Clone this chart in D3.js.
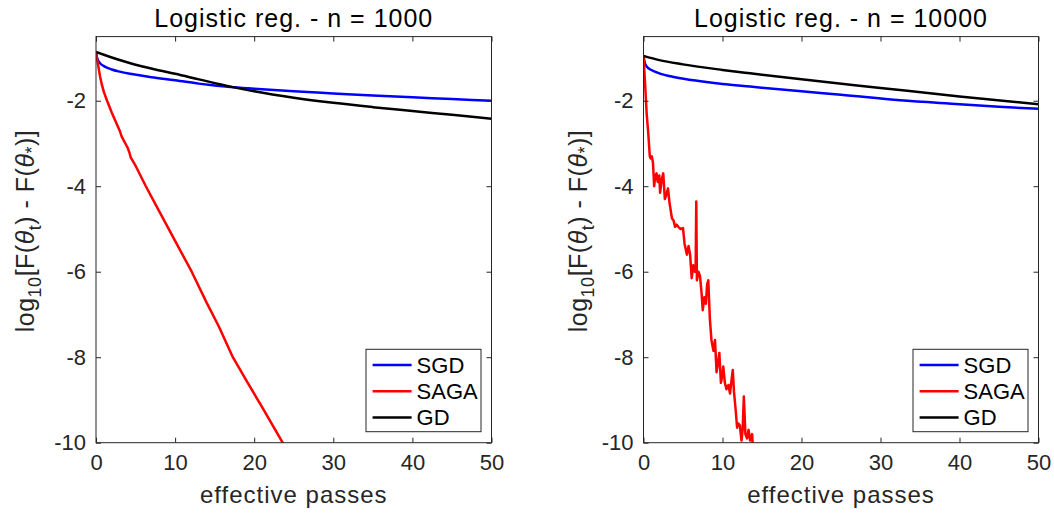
<!DOCTYPE html>
<html>
<head>
<meta charset="utf-8">
<script src="https://cdn.jsdelivr.net/npm/d3@7"></script>
<style>
  body { margin: 0; background: #fff; }
  text { font-family: "Liberation Sans", Arial, Helvetica, sans-serif; fill: #262626; }
</style>
</head>
<body>
<svg id="chart" width="1054" height="514"></svg>
<script>
// ---- data ----
const xTicks = [0, 10, 20, 30, 40, 50];
const yTicks = [-10, -8, -6, -4, -2];
const seriesNames = ["SGD", "SAGA", "GD"];
const titles = ["Logistic reg. - n = 1000", "Logistic reg. - n = 10000"];

// n = 1000
const sgdSmall = [[0,-0.87],[0.15,-1.0],[0.5,-1.12],[1,-1.19],[2,-1.27],[3,-1.32],[4.7,-1.38],[7,-1.45],[10,-1.52],[13,-1.6],[17,-1.68],[20,-1.72],[25,-1.78],[30,-1.83],[35,-1.88],[40,-1.92],[45,-1.96],[50,-2.0]];
const sagaSmall = [[0,-0.87],[0.15,-1.05],[0.3,-1.2],[0.5,-1.42],[0.75,-1.63],[1,-1.8],[1.4,-2.0],[2,-2.28],[2.4,-2.45],[3,-2.7],[3.25,-2.84],[4,-3.1],[4.2,-3.2],[4.4,-3.33],[5,-3.52],[6.3,-4.0],[8,-4.59],[10,-5.28],[12.1,-6.0],[14,-6.73],[15.5,-7.27],[17.3,-8.0],[19,-8.54],[21,-9.17],[23.6,-10.0],[25,-10.45]];
const gdSmall = [[0,-0.86],[2,-0.99],[5,-1.16],[7.5,-1.27],[10,-1.37],[13,-1.5],[17,-1.67],[20,-1.78],[25,-1.93],[30,-2.05],[35,-2.15],[40,-2.24],[45,-2.33],[50,-2.42]];

// n = 10000
const sgdLarge = [[0,-0.95],[0.15,-1.1],[0.4,-1.2],[1,-1.28],[2,-1.36],[4,-1.45],[7,-1.54],[10,-1.61],[13.5,-1.67],[20,-1.78],[25,-1.86],[32.5,-1.99],[40,-2.08],[45,-2.14],[50,-2.19]];
const sagaLarge = [[0,-0.95],[0.2,-1.6],[0.4,-2.3],[0.6,-2.75],[0.8,-3.3],[0.9,-3.35],[1.05,-3.3],[1.2,-3.45],[1.35,-4.0],[1.5,-3.75],[1.65,-3.7],[1.8,-3.9],[2.0,-3.75],[2.1,-4.15],[2.3,-3.85],[2.5,-3.7],[2.7,-4.3],[2.9,-4.2],[3.1,-4.05],[3.3,-4.4],[3.6,-4.75],[3.8,-4.8],[4.0,-4.95],[4.2,-4.9],[4.4,-4.95],[4.7,-5.0],[5.0,-4.98],[5.2,-5.35],[5.5,-5.6],[5.7,-5.4],[5.9,-5.6],[6.1,-6.15],[6.3,-5.85],[6.5,-6.0],[6.6,-5.95],[6.68,-4.36],[6.76,-6.2],[6.95,-6.0],[7.15,-6.1],[7.35,-6.5],[7.5,-6.9],[7.7,-6.6],[7.9,-6.75],[8.05,-6.3],[8.2,-6.2],[8.4,-7.1],[8.6,-7.6],[8.85,-7.85],[9.05,-7.6],[9.25,-8.35],[9.45,-8.1],[9.6,-7.9],[9.8,-8.6],[10.0,-8.4],[10.1,-8.22],[10.3,-8.6],[10.5,-8.75],[10.75,-8.65],[10.95,-8.85],[11.1,-8.6],[11.3,-8.3],[11.45,-8.8],[11.65,-9.2],[11.85,-9.65],[12.0,-9.55],[12.2,-9.6],[12.4,-9.95],[12.55,-9.7],[12.7,-8.92],[12.9,-9.8],[13.1,-9.9],[13.3,-9.7],[13.5,-9.95],[13.75,-9.8],[13.9,-10.3]];
const gdLarge = [[0,-0.95],[2,-1.05],[5,-1.15],[10,-1.28],[13.5,-1.36],[20,-1.5],[30,-1.7],[40,-1.9],[50,-2.08]];

const seriesColors = ["#0000ff", "#ff0000", "#000000"];
const axisColor = "#262626";

const svg = d3.select("#chart");
svg.append("rect").attr("width", 1054).attr("height", 514).attr("fill", "#fff");

const panels = [
    { left: 96, right: 491.5, title: titles[0], series: [sgdSmall, sagaSmall, gdSmall], ylabX: 34 },
    { left: 643.5, right: 1038.5, title: titles[1], series: [sgdLarge, sagaLarge, gdLarge], ylabX: 586.5 }
];
const plotTop = 36.6, plotBottom = 442.7;

panels.forEach((p, i) => {
    const x = d3.scaleLinear().domain([0, 50]).range([p.left, p.right]);
    const y = d3.scaleLinear().domain([-10, -0.5]).range([plotBottom, plotTop]);
    const g = svg.append("g");

    // clip the lines to the axes box
    const clipId = "clip" + i;
    svg.append("defs").append("clipPath").attr("id", clipId)
        .append("rect")
        .attr("x", p.left).attr("y", plotTop)
        .attr("width", p.right - p.left).attr("height", plotBottom - plotTop);

    p.series.forEach((s, k) => {
        // SAGA is drawn with straight segments, the smooth ones get a monotone curve
        const curve = k === 1 ? d3.curveLinear : d3.curveMonotoneX;
        const line = d3.line().x(d => x(d[0])).y(d => y(d[1])).curve(curve);
        g.append("path")
            .datum(s)
            .attr("clip-path", `url(#${clipId})`)
            .attr("fill", "none")
            .attr("stroke", seriesColors[k])
            .attr("stroke-width", 2.5)
            .attr("stroke-linejoin", "round")
            .attr("d", line);
    });

    // box + inward ticks on all four sides
    const tick = 5;
    const fmt = d => String(d);
    const bAxis = g.append("g").attr("transform", `translate(0,${plotBottom})`)
        .call(d3.axisBottom(x).tickValues(xTicks).tickFormat(fmt).tickSizeInner(-tick).tickSizeOuter(0).tickPadding(12));
    const tAxis = g.append("g").attr("transform", `translate(0,${plotTop})`)
        .call(d3.axisTop(x).tickValues(xTicks).tickSizeInner(-tick).tickSizeOuter(0).tickFormat(""));
    const lAxis = g.append("g").attr("transform", `translate(${p.left},0)`)
        .call(d3.axisLeft(y).tickValues(yTicks).tickFormat(fmt).tickSizeInner(-tick).tickSizeOuter(0).tickPadding(10));
    const rAxis = g.append("g").attr("transform", `translate(${p.right},0)`)
        .call(d3.axisRight(y).tickValues(yTicks).tickSizeInner(-tick).tickSizeOuter(0).tickFormat(""));
    [bAxis, tAxis, lAxis, rAxis].forEach(a => {
        a.select(".domain").remove();
        a.selectAll("line").attr("stroke", axisColor);
        a.selectAll("text").attr("fill", axisColor).style("font-size", "22px")
            .style("font-family", '"Liberation Sans", Arial, sans-serif');
    });
    bAxis.selectAll("text").attr("dy", "0.71em");
    g.append("rect")
        .attr("x", p.left).attr("y", plotTop)
        .attr("width", p.right - p.left).attr("height", plotBottom - plotTop)
        .attr("fill", "none").attr("stroke", axisColor).attr("stroke-width", 1);

    // title
    g.append("text")
        .attr("x", (p.left + p.right) / 2).attr("y", 27)
        .attr("text-anchor", "middle")
        .style("font-size", "25px").style("letter-spacing", "1px").style("fill", "#000")
        .text(p.title);

    // x label
    g.append("text")
        .attr("x", (p.left + p.right) / 2).attr("y", 503)
        .attr("text-anchor", "middle")
        .style("font-size", "24px").style("letter-spacing", "1px")
        .text("effective passes");

    // y label: log10[F(θt) - F(θ*)]
    const yl = g.append("text")
        .attr("transform", `translate(${p.ylabX},231) rotate(-90)`)
        .attr("text-anchor", "middle")
        .style("font-size", "25px").style("letter-spacing", "0.5px");
    yl.append("tspan").text("log");
    yl.append("tspan").attr("dy", 7).style("font-size", "18px").text("10");
    yl.append("tspan").attr("dy", -7).text("[F(");
    yl.append("tspan").style("font-style", "italic").text("θ");
    yl.append("tspan").attr("dy", 7).style("font-size", "18px").text("t");
    yl.append("tspan").attr("dy", -7).text(") - F(");
    yl.append("tspan").style("font-style", "italic").text("θ");
    yl.append("tspan").attr("dy", 4).style("font-size", "18px").text("*");
    yl.append("tspan").attr("dy", -4).text(")]");

    // legend
    const lw = 115, lh = 82.4;
    const lx = p.right - 10.5 - lw, ly = plotBottom - 11 - lh;
    const leg = g.append("g").attr("transform", `translate(${lx},${ly})`);
    leg.append("rect").attr("width", lw).attr("height", lh)
        .attr("fill", "#fff").attr("stroke", axisColor).attr("stroke-width", 1);
    seriesNames.forEach((name, k) => {
        const ry = 15.7 + k * 26.2;
        leg.append("line").attr("x1", 6.6).attr("x2", 45.6).attr("y1", ry).attr("y2", ry)
            .attr("stroke", seriesColors[k]).attr("stroke-width", 2.5);
        leg.append("text").attr("x", 50.6).attr("y", ry).attr("dy", "0.36em")
            .style("font-size", "22px").style("fill", "#000").text(name);
    });
});
</script>
</body>
</html>
